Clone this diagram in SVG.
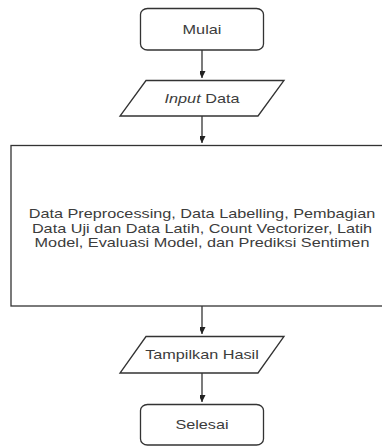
<svg xmlns="http://www.w3.org/2000/svg" width="382" height="446" viewBox="0 0 382 446">
  <style>
    .shape { fill: #ffffff; stroke: #333333; stroke-width: 1.3; }
    .edge { fill: none; stroke: #333333; stroke-width: 1.3; }
    .label { font-family: "Liberation Sans", Arial, sans-serif; font-size: 12.5px; fill: #3c3c3c; text-anchor: middle; }
  </style>
  <defs>
    <marker id="arrow" markerUnits="userSpaceOnUse" markerWidth="14" markerHeight="14" viewBox="-7 -12 14 14" refX="0" refY="0" orient="auto-start-reverse">
      <path d="M0,0 L-5.5,-11 L0,-8.5 L5.5,-11 Z" fill="#222222" stroke="none" transform="rotate(-90)"/>
    </marker>
  </defs>

  <rect width="382" height="446" fill="#ffffff"/>

  <!-- connectors -->
  <g id="connectors">
    <path class="edge" d="M202,50 V78" marker-end="url(#arrow)"/>
    <path class="edge" d="M202,116 V143" marker-end="url(#arrow)"/>
    <path class="edge" d="M202,306 V334" marker-end="url(#arrow)"/>
    <path class="edge" d="M202,373 V402" marker-end="url(#arrow)"/>
  </g>

  <!-- start terminator -->
  <g id="mulai">
    <rect class="shape" x="140.5" y="8.5" width="123" height="41.5" rx="7" ry="6"/>
    <text class="label" transform="translate(202,33.5) scale(1.3,1)">Mulai</text>
  </g>

  <!-- input -->
  <g id="input-data">
    <polygon class="shape" points="146,80.5 284,80.5 258,116 120,116"/>
    <text class="label" transform="translate(202,102.5) scale(1.3,1)"><tspan font-style="italic">Input</tspan> Data</text>
  </g>

  <!-- processing block -->
  <g id="proses">
    <rect class="shape" x="11" y="145.5" width="382" height="160.5"/>
    <text class="label" transform="translate(202,218) scale(1.3,1)">Data Preprocessing, Data Labelling, Pembagian</text>
    <text class="label" transform="translate(202,232.5) scale(1.3,1)">Data Uji dan Data Latih, Count Vectorizer, Latih</text>
    <text class="label" transform="translate(202,247) scale(1.3,1)">Model, Evaluasi Model, dan Prediksi Sentimen</text>
  </g>

  <!-- output -->
  <g id="tampilkan-hasil">
    <polygon class="shape" points="146,336.5 284,336.5 258,373 120,373"/>
    <text class="label" transform="translate(202,359) scale(1.3,1)">Tampilkan Hasil</text>
  </g>

  <!-- end terminator -->
  <g id="selesai">
    <rect class="shape" x="140.5" y="404.5" width="123" height="40.5" rx="7" ry="6"/>
    <text class="label" transform="translate(202,429) scale(1.3,1)">Selesai</text>
  </g>
</svg>
